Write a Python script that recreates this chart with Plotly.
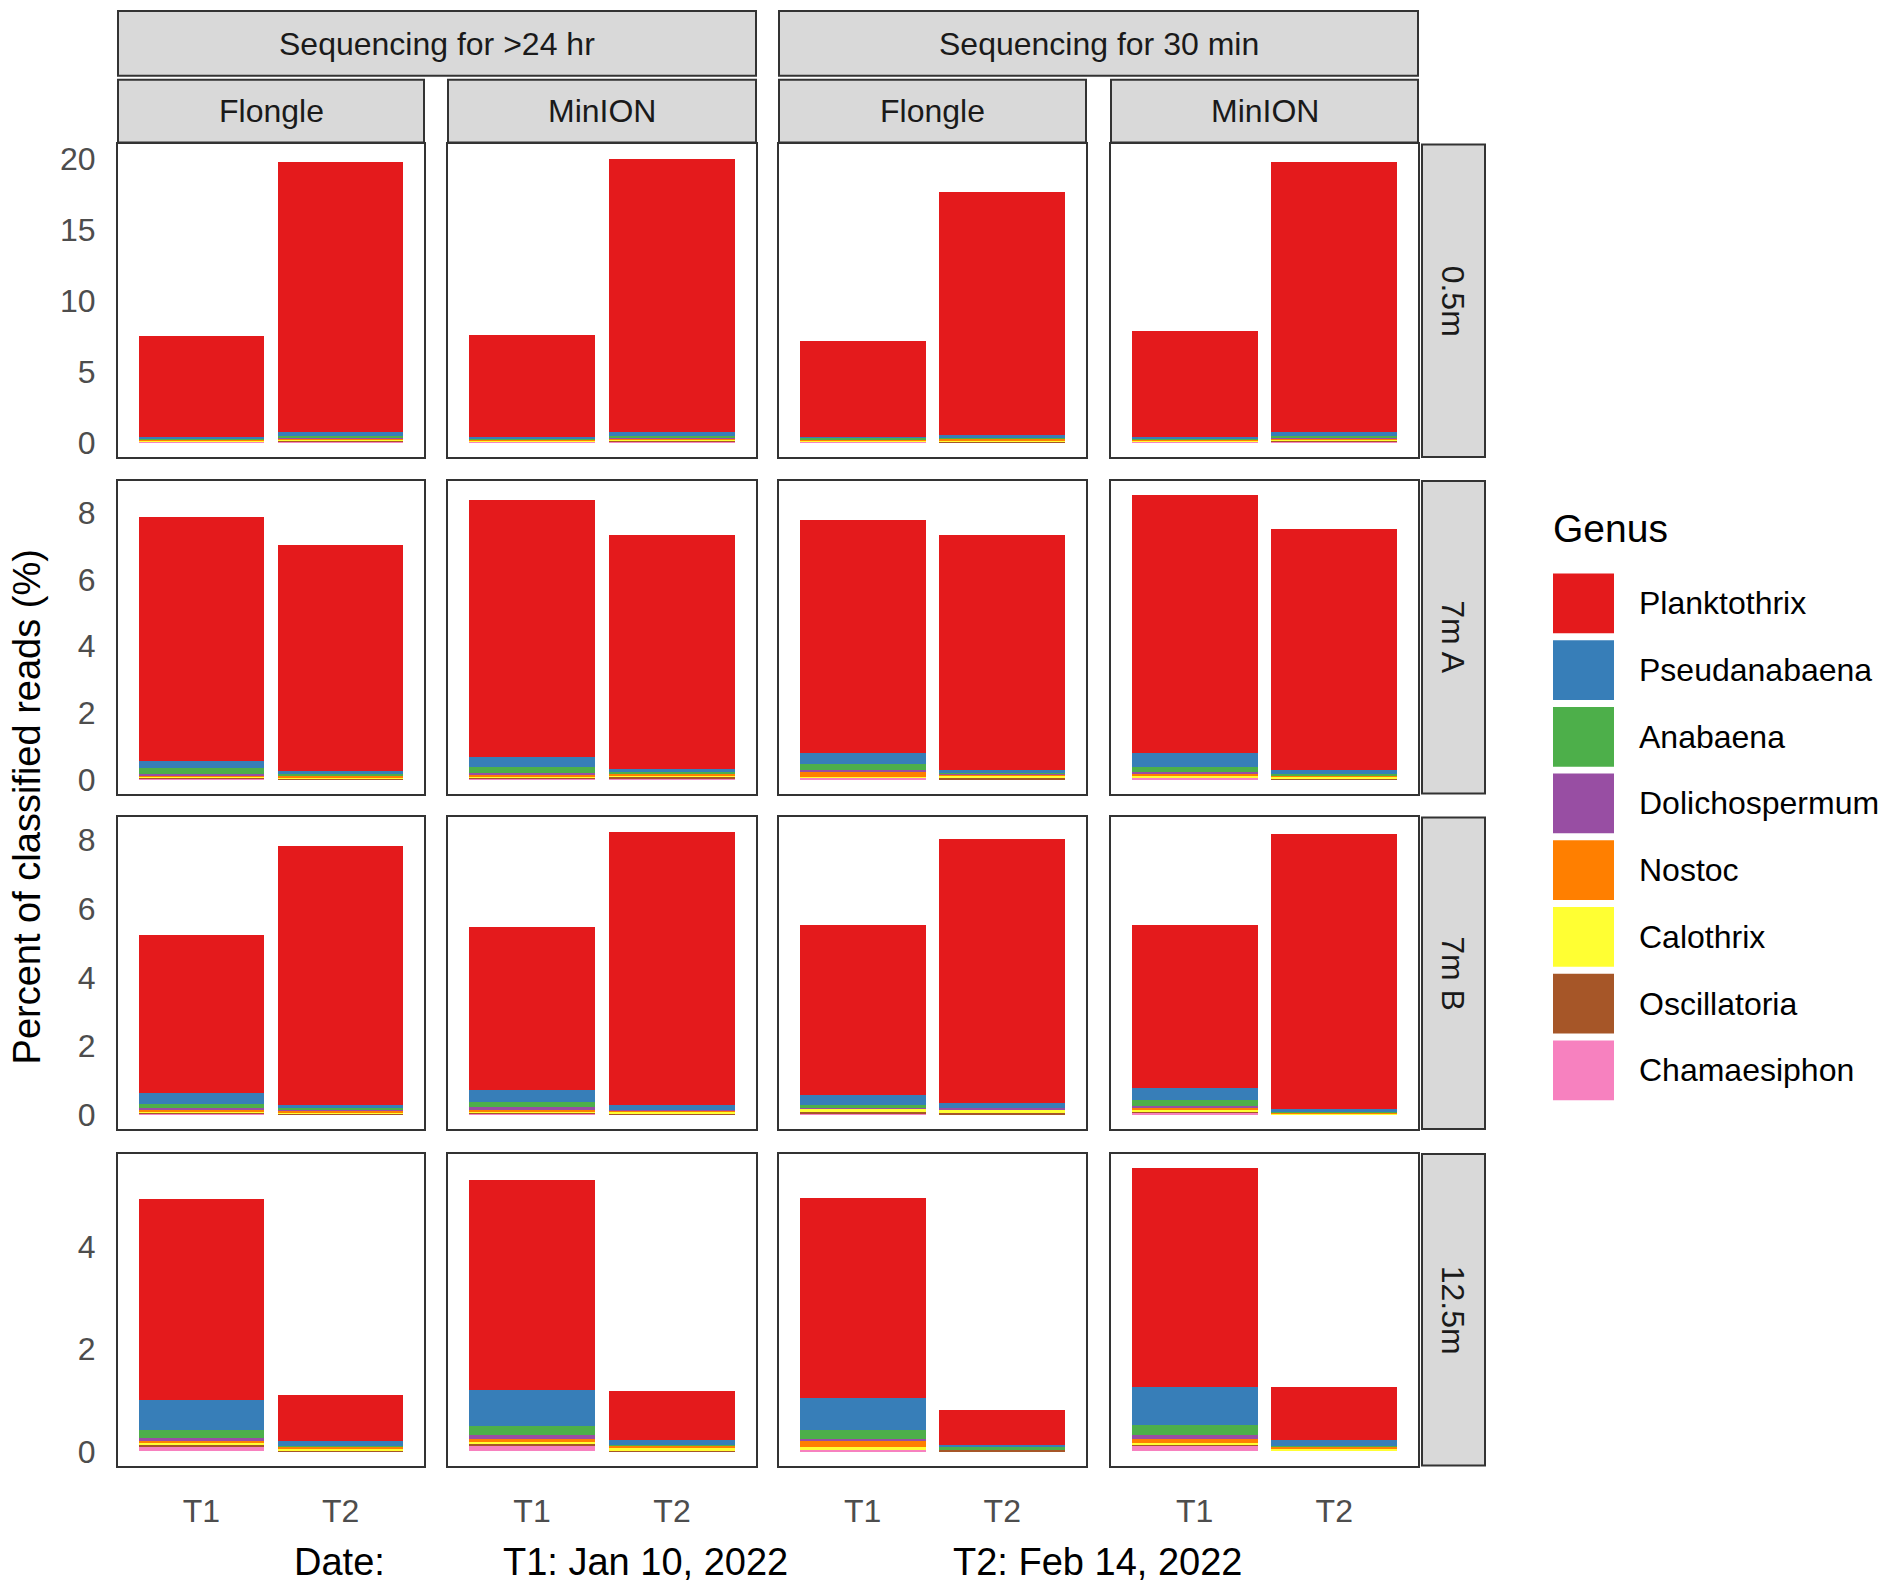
import plotly.graph_objects as go

# Data (percent of classified reads), rows = depth,
# each row: >24hr Flongle T1,T2 | >24hr MinION T1,T2 | 30min Flongle T1,T2 | 30min MinION T1,T2
depths = ["0.5m", "7m A", "7m B", "12.5m"]
durations = ["Sequencing for >24 hr", "Sequencing for 30 min"]
devices = ["Flongle", "MinION"]
dates = ["T1", "T2"]
genera = ["Planktothrix", "Pseudanabaena", "Anabaena", "Dolichospermum",
          "Nostoc", "Calothrix", "Oscillatoria", "Chamaesiphon"]
colors = ["#E41A1C", "#377EB8", "#4DAF4A", "#984EA3",
          "#FF7F00", "#FFFF33", "#A65628", "#F781BF"]

planktothrix = [
    [7.11, 19.02, 7.21, 19.27, 6.71, 17.14, 7.46, 19.02],
    [7.33, 6.78, 7.72, 7.04, 7.00, 7.06, 7.76, 7.26],
    [4.57, 7.53, 4.74, 7.94, 4.94, 7.68, 4.76, 8.01],
    [3.93, 0.89, 4.11, 0.96, 3.91, 0.69, 4.29, 1.04],
]
pseudanabaena = [
    [0.10, 0.25, 0.10, 0.27, 0.08, 0.20, 0.10, 0.25],
    [0.22, 0.10, 0.32, 0.10, 0.33, 0.10, 0.40, 0.12],
    [0.32, 0.10, 0.35, 0.16, 0.29, 0.14, 0.35, 0.08],
    [0.60, 0.10, 0.71, 0.10, 0.64, 0.05, 0.75, 0.13],
]
anabaena = [
    [0.08, 0.15, 0.08, 0.15, 0.14, 0.06, 0.08, 0.15],
    [0.17, 0.02, 0.17, 0.03, 0.17, 0.02, 0.15, 0.02],
    [0.14, 0.07, 0.14, 0.01, 0.10, 0.02, 0.16, 0.01],
    [0.14, 0.01, 0.18, 0.01, 0.16, 0.05, 0.18, 0.01],
]
dolichospermum = [
    [0.04, 0.06, 0.04, 0.06, 0.04, 0.04, 0.04, 0.06],
    [0.05, 0.01, 0.05, 0.01, 0.05, 0.01, 0.05, 0.01],
    [0.05, 0.01, 0.08, 0.01, 0.03, 0.04, 0.06, 0.00],
    [0.06, 0.00, 0.08, 0.00, 0.05, 0.00, 0.08, 0.00],
]
nostoc = [
    [0.05, 0.10, 0.05, 0.10, 0.05, 0.14, 0.05, 0.10],
    [0.03, 0.05, 0.04, 0.04, 0.15, 0.07, 0.07, 0.02],
    [0.05, 0.05, 0.05, 0.04, 0.01, 0.02, 0.07, 0.05],
    [0.05, 0.05, 0.05, 0.05, 0.11, 0.00, 0.08, 0.05],
]
calothrix = [
    [0.03, 0.05, 0.03, 0.05, 0.03, 0.04, 0.03, 0.05],
    [0.02, 0.04, 0.04, 0.07, 0.01, 0.06, 0.04, 0.08],
    [0.04, 0.05, 0.04, 0.06, 0.07, 0.08, 0.04, 0.02],
    [0.04, 0.04, 0.05, 0.05, 0.06, 0.00, 0.03, 0.04],
]
oscillatoria = [
    [0.05, 0.08, 0.05, 0.08, 0.05, 0.06, 0.05, 0.08],
    [0.03, 0.02, 0.02, 0.04, 0.02, 0.02, 0.02, 0.01],
    [0.03, 0.01, 0.03, 0.01, 0.07, 0.05, 0.04, 0.00],
    [0.04, 0.01, 0.04, 0.01, 0.00, 0.03, 0.03, 0.00],
]
chamaesiphon = [
    [0.04, 0.04, 0.04, 0.04, 0.04, 0.02, 0.04, 0.04],
    [0.04, 0.01, 0.04, 0.02, 0.05, 0.01, 0.05, 0.01],
    [0.02, 0.01, 0.03, 0.01, 0.02, 0.00, 0.05, 0.00],
    [0.08, 0.00, 0.10, 0.00, 0.03, 0.00, 0.11, 0.00],
]
genus_values = [planktothrix, pseudanabaena, anabaena, dolichospermum,
                nostoc, calothrix, oscillatoria, chamaesiphon]
y_dticks = [5, 2, 2, 2]

# page geometry (pixels); body margin is removed after plotting
W, H = 1902, 1592
col_px = [(118, 424), (448, 756), (779, 1086), (1111, 1418)]
row_px = [(142, 456), (480, 794), (818, 1131), (1156, 1469)]


def px(x):
    return x / W


def py(y):
    return 1 - y / H


def label(text, x, y, size=32, color="#1A1A1A", xanchor="center", angle=0):
    return dict(text=text, xref="paper", yref="paper", x=px(x), y=py(y),
                xanchor=xanchor, yanchor="middle", showarrow=False,
                textangle=angle, font=dict(size=size, color=color))


fig = go.Figure()
layout = {}

for r in range(4):
    totals = [sum(g[r][i] for g in genus_values) for i in range(8)]
    ymax = max(totals)
    for c in range(4):
        n = r * 4 + c + 1
        xa = "xaxis" if n == 1 else "xaxis%d" % n
        ya = "yaxis" if n == 1 else "yaxis%d" % n
        xref = "x" if n == 1 else "x%d" % n
        yref = "y" if n == 1 else "y%d" % n
        # bottom of the stack first
        for gi in reversed(range(len(genera))):
            vals = genus_values[gi][r][2 * c:2 * c + 2]
            fig.add_trace(go.Bar(x=dates, y=vals, name=genera[gi],
                                 marker=dict(color=colors[gi], line=dict(width=0)),
                                 showlegend=False, xaxis=xref, yaxis=yref))
        layout[xa] = dict(domain=[px(col_px[c][0]), px(col_px[c][1])],
                          anchor=yref, type="category", range=[-0.6, 1.6],
                          showgrid=False, zeroline=False,
                          showline=True, mirror=True, linecolor="#333333", linewidth=2,
                          ticks="outside", ticklen=16, tickcolor="rgba(0,0,0,0)",
                          showticklabels=(r == 3),
                          tickfont=dict(size=32, color="#4D4D4D"))
        layout[ya] = dict(domain=[py(row_px[r][1]), py(row_px[r][0])],
                          anchor=xref, range=[-0.05 * ymax, 1.05 * ymax],
                          dtick=y_dticks[r], tick0=0,
                          showgrid=False, zeroline=False,
                          showline=True, mirror=True, linecolor="#333333", linewidth=2,
                          ticks="outside", ticklen=14, tickcolor="rgba(0,0,0,0)",
                          showticklabels=(c == 0),
                          tickfont=dict(size=32, color="#4D4D4D"))

shapes = []
annotations = []
strip_fill = "#D9D9D9"
strip_line = dict(color="#333333", width=2)

# device strips
for c in range(4):
    x0, x1 = col_px[c]
    shapes.append(dict(type="rect", xref="paper", yref="paper",
                       x0=px(x0), x1=px(x1), y0=py(140), y1=py(77),
                       fillcolor=strip_fill, line=strip_line, layer="below"))
    annotations.append(label(devices[c % 2], (x0 + x1) / 2, 108))
# duration strips
for d in range(2):
    x0 = col_px[2 * d][0]
    x1 = col_px[2 * d + 1][1]
    shapes.append(dict(type="rect", xref="paper", yref="paper",
                       x0=px(x0), x1=px(x1), y0=py(73), y1=py(8),
                       fillcolor=strip_fill, line=strip_line, layer="below"))
    annotations.append(label(durations[d], (x0 + x1) / 2, 41))
# depth strips
for r in range(4):
    y0, y1 = row_px[r]
    shapes.append(dict(type="rect", xref="paper", yref="paper",
                       x0=px(1422), x1=px(1485), y0=py(y1), y1=py(y0),
                       fillcolor=strip_fill, line=strip_line, layer="below"))
    annotations.append(label(depths[r], 1453, (y0 + y1) / 2, angle=90))

# axis titles
annotations.append(label("Percent of classified reads (%)", 27, 808,
                         size=38, color="black", angle=-90))
for txt, xc in [("Date:", 339), ("T1: Jan 10, 2022", 645), ("T2: Feb 14, 2022", 1097)]:
    annotations.append(label(txt, xc, 1566, size=38, color="black"))

# legend
annotations.append(label("Genus", 1551, 528, size=39, color="black", xanchor="left"))
for gi, g in enumerate(genera):
    yc = 603 + gi * 67
    shapes.append(dict(type="rect", xref="paper", yref="paper",
                       x0=px(1553), x1=px(1614), y0=py(yc + 30), y1=py(yc - 30),
                       fillcolor=colors[gi], line=dict(width=0)))
    annotations.append(label(g, 1637, yc, color="black", xanchor="left"))

fig.update_layout(**layout)
fig.update_layout(
    width=W, height=H,
    margin=dict(l=0, r=0, t=0, b=0),
    paper_bgcolor="white", plot_bgcolor="white",
    barmode="stack", bargap=0.1,
    font=dict(family="Liberation Sans, Arial, sans-serif"),
    showlegend=False,
    shapes=shapes, annotations=annotations,
)

fig.write_html("out.html", config={"displayModeBar": False},
               post_script="document.body.style.margin='0';document.body.style.overflow='hidden';")
